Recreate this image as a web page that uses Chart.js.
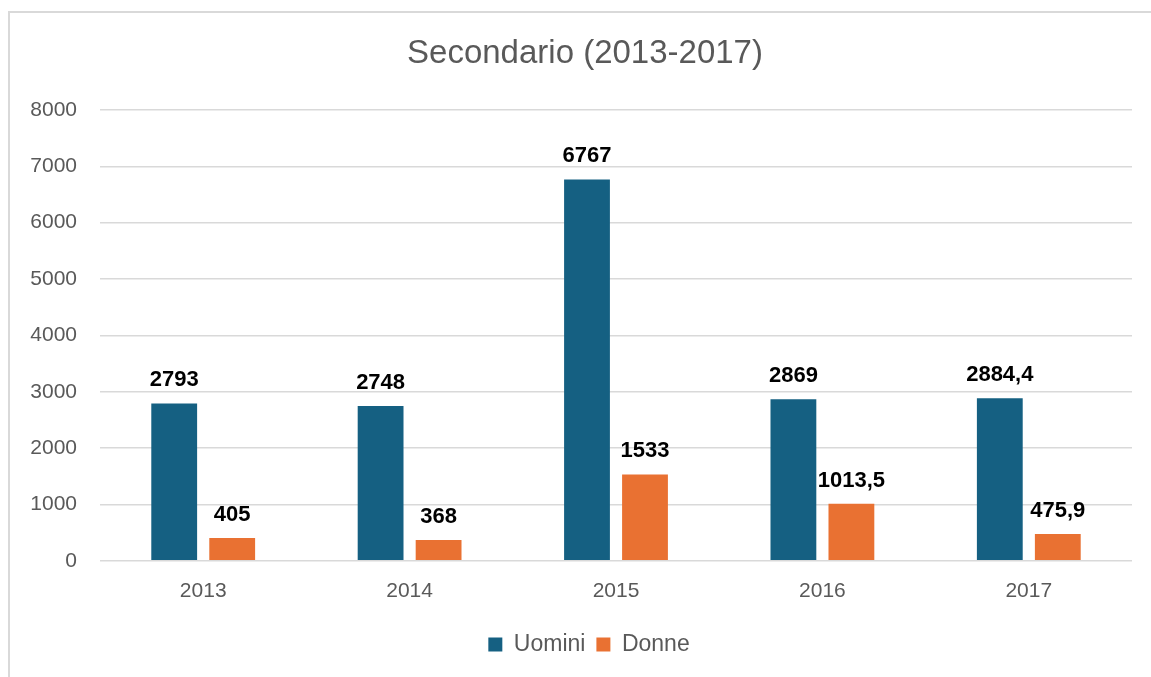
<!DOCTYPE html>
<html>
<head>
<meta charset="utf-8">
<script src="https://cdn.jsdelivr.net/npm/chart.js@4/dist/chart.umd.min.js"></script>
<style>
  html, body { margin: 0; padding: 0; background: #fff; }
  #wrap { position: relative; width: 1151px; height: 677px; overflow: hidden; }
  #frame { position: absolute; left: 8px; top: 11px; width: 1200px; height: 700px;
           border-left: 2px solid #d9d9d9; border-top: 2px solid #d9d9d9; pointer-events: none; }
  canvas { position: absolute; left: 0; top: 0; }
</style>
</head>
<body>
<div id="wrap">
  <canvas id="chart" width="1151" height="677"></canvas>
  <div id="frame"></div>
</div>
<script>
// Secondario (2013-2017) â€” Uomini vs Donne

const chartTitle = 'Secondario (2013-2017)';
const years = ['2013', '2014', '2015', '2016', '2017'];
const uomini = [2793, 2748, 6767, 2869, 2884.4];
const donne = [405, 368, 1533, 1013.5, 475.9];
const yTicks = [0, 1000, 2000, 3000, 4000, 5000, 6000, 7000, 8000];

const BLUE = '#156082';
const ORANGE = '#E97132';
const GREY_TEXT = '#595959';
const FONT = "'Liberation Sans', Arial, sans-serif";

const fmt = v => String(v).replace('.', ',');

// value labels above every bar
const barLabels = {
  id: 'barLabels',
  afterDatasetsDraw(chart) {
    const ctx = chart.ctx;
    ctx.save();
    ctx.font = 'bold 22px ' + FONT;
    ctx.fillStyle = '#000';
    ctx.textAlign = 'center';
    ctx.textBaseline = 'alphabetic';
    chart.data.datasets.forEach((ds, i) => {
      chart.getDatasetMeta(i).data.forEach((bar, j) => {
        ctx.fillText(fmt(ds.data[j]), bar.x, bar.y - 17);
      });
    });
    ctx.restore();
  }
};

// title and legend centred on the chart frame (it starts a few px right of the canvas edge)
const frameTitle = {
  id: 'frameTitle',
  afterLayout(chart) {
    if (chart.legend) {
      chart.legend.left += 13;
      chart.legend.right += 13;
    }
  },
  afterDraw(chart) {
    const ctx = chart.ctx;
    ctx.save();
    ctx.font = '33px ' + FONT;
    ctx.fillStyle = GREY_TEXT;
    ctx.textAlign = 'center';
    ctx.textBaseline = 'middle';
    ctx.fillText(chartTitle, 585, 54);
    ctx.restore();
  }
};

new Chart(document.getElementById('chart'), {
  type: 'bar',
  data: {
    labels: years,
    datasets: [
      { label: 'Uomini', data: uomini, backgroundColor: BLUE },
      { label: 'Donne', data: donne, backgroundColor: ORANGE }
    ]
  },
  options: {
    responsive: false,
    animation: false,
    categoryPercentage: 0.562,
    barPercentage: 0.79,
    layout: { padding: { left: 20, right: 19, top: 110, bottom: 11 } },
    plugins: {
      title: { display: false },
      legend: {
        position: 'bottom',
        labels: {
          color: GREY_TEXT,
          font: { family: FONT, size: 23 },
          boxWidth: 14,
          boxHeight: 14,
          padding: 11
        }
      },
      tooltip: { enabled: false }
    },
    scales: {
      x: {
        grid: { display: false, drawTicks: false },
        border: { display: false },
        ticks: { color: GREY_TEXT, font: { family: FONT, size: 21 }, padding: 18 }
      },
      y: {
        min: 0,
        max: 8000,
        afterBuildTicks: scale => { scale.ticks = yTicks.map(v => ({ value: v })); },
        afterFit: scale => { scale.width = 80; },
        grid: { color: '#d9d9d9', lineWidth: 1.5, drawTicks: false },
        border: { display: false },
        ticks: {
          color: GREY_TEXT,
          font: { family: FONT, size: 21 },
          padding: 23,
          callback: v => String(v)
        }
      }
    }
  },
  plugins: [barLabels, frameTitle]
});
</script>
</body>
</html>
